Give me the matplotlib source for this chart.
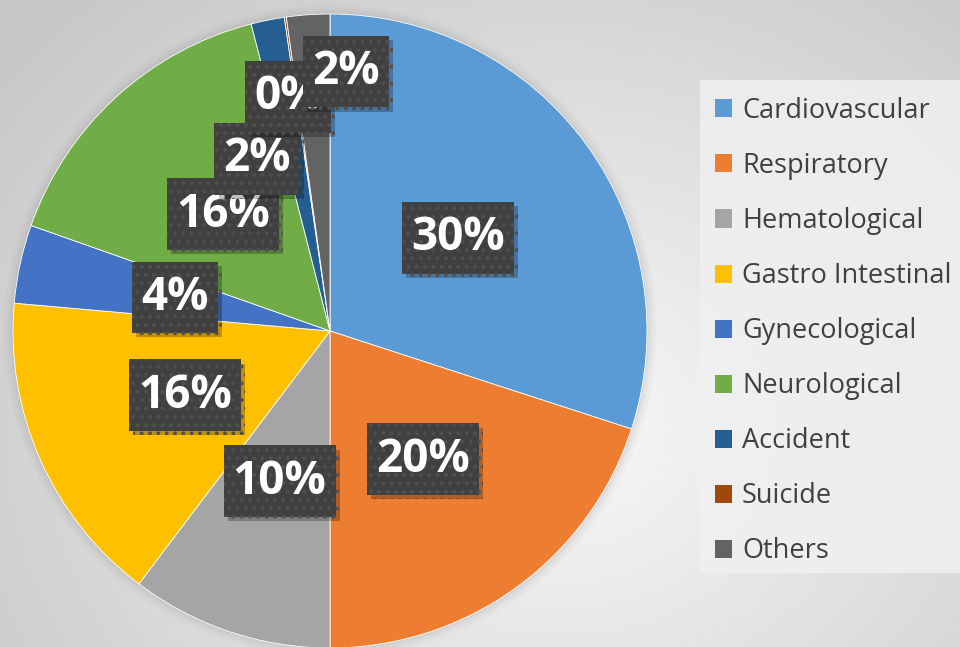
import numpy as np
import matplotlib.pyplot as plt
import matplotlib.patheffects as pe
from matplotlib.patches import Rectangle, Circle
from matplotlib.path import Path

# ── Data ──────────────────────────────────────────────────────────────────────
categories = ["Cardiovascular", "Respiratory", "Hematological", "Gastro Intestinal",
              "Gynecological", "Neurological", "Accident", "Suicide", "Others"]
shares = [30.0, 20.0, 10.3, 16.1, 4.0, 15.6, 1.7, 0.1, 2.2]
colors = ["#5B9BD5", "#ED7D31", "#A5A5A5", "#FFC000", "#4472C4",
          "#70AD47", "#255E91", "#9E480E", "#636363"]

# label placement: fraction of radius, angle nudge (deg, clockwise)
label_r = [0.5, 0.5, 0.5, 0.5, 0.5, 0.5, 0.59, 0.75, 0.82]
label_nudge = [0, 0, 0, 0, 0, 0, -11.5, -2.0, 7.5]

W, H = 960, 647
fig = plt.figure(figsize=(W / 100, H / 100), dpi=100)
plt.rcParams["hatch.linewidth"] = 1.6


def label_box(x0, y0, width, height, mutation_size):
    # taller box than the plain "square" style
    px, py = 0.2 * mutation_size, 0.27 * mutation_size
    x0, y0 = x0 - px, y0 - py
    x1, y1 = x0 + width + 2 * px, y0 + height + 2 * py
    return Path([(x0, y0), (x1, y0), (x1, y1), (x0, y1), (x0, y0)], closed=True)


# ── Background radial gradient ────────────────────────────────────────────────
bg = fig.add_axes([0, 0, 1, 1])
yy, xx = np.mgrid[0:H, 0:W]
d = np.sqrt(((xx - 560) / 560.0) ** 2 + ((yy - 430) / 470.0) ** 2)
d = np.clip(d, 0, 1.25) / 1.25
shade = 0.975 - d * 0.19
bg.imshow(np.dstack([shade] * 3), extent=[0, W, H, 0], aspect="auto")
bg.set_xlim(0, W)
bg.set_ylim(H, 0)
bg.axis("off")

# legend panel
fig.patches.append(Rectangle((700 / W, (H - 573) / H), 260 / W, 493 / H,
                             transform=fig.transFigure, facecolor="#f0f0f0",
                             edgecolor="none", alpha=0.85, zorder=1))

# ── Pie ───────────────────────────────────────────────────────────────────────
cx, cy, r = 330, 331, 317
ax = fig.add_axes([(cx - r) / W, (H - cy - r) / H, 2 * r / W, 2 * r / H])

wedges, _ = ax.pie(shares, colors=colors, startangle=90, counterclock=False,
                   radius=1, wedgeprops=dict(linewidth=0.6, edgecolor="white"))
ax.set_xlim(-1, 1)
ax.set_ylim(-1, 1)
ax.set_aspect("auto")
ax.axis("off")

# soft shadow round the pie
for k, a in zip([1.03, 1.02, 1.012, 1.005], [0.04, 0.05, 0.06, 0.08]):
    ax.add_patch(Circle((0, 0), k, facecolor="#808080", edgecolor="none",
                        alpha=a, zorder=0, clip_on=False))

total = sum(shares)
for w, val, lr, nudge in zip(wedges, shares, label_r, label_nudge):
    mid = np.deg2rad((w.theta1 + w.theta2) / 2 - nudge)
    x, y = lr * np.cos(mid), lr * np.sin(mid)
    t = ax.text(x, y, f"{val / total * 100:.0f}%", ha="center", va="center",
                fontsize=33, fontweight="bold", family=["Open Sans", "DejaVu Sans"],
                color="white", zorder=5,
                bbox=dict(boxstyle=label_box, facecolor="#404040",
                          edgecolor="#4f4f4f", linewidth=0, hatch=".."))
    t.get_bbox_patch().set_path_effects(
        [pe.SimplePatchShadow(offset=(3, -3), shadow_rgbFace="black", alpha=0.25),
         pe.Normal()])

# ── Legend ────────────────────────────────────────────────────────────────────
handles = [Rectangle((0, 0), 1, 1, facecolor=c, edgecolor="none") for c in colors]
leg = fig.legend(handles, categories, loc="upper left",
                 bbox_to_anchor=(704 / W, 1 - 86 / H),
                 frameon=False, handlelength=0.65, handleheight=0.65, handletextpad=0.35,
                 labelspacing=1.0, borderaxespad=0,
                 prop=dict(family=["Open Sans", "DejaVu Sans"], size=19.5))
for txt in leg.get_texts():
    txt.set_color("#404040")

fig.savefig("out.png", dpi=100)
